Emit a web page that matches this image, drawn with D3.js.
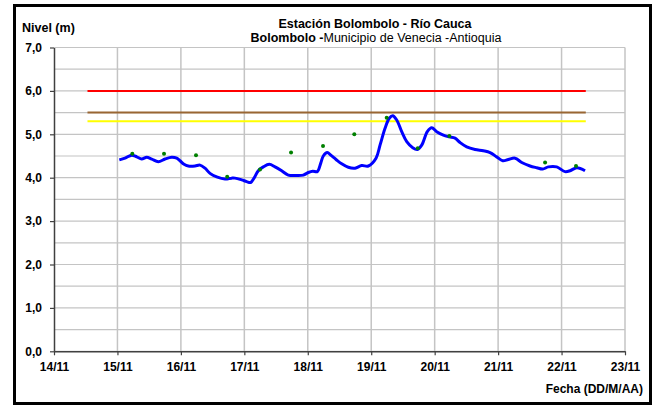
<!DOCTYPE html>
<html>
<head>
<meta charset="utf-8">
<script src="https://cdn.jsdelivr.net/npm/d3@7"></script>
<style>
  body { margin: 0; background: #fff; }
  svg { font-family: "Liberation Sans", Arial, sans-serif; }
</style>
</head>
<body>
<svg id="chart" width="655" height="407"></svg>
<script>
// niveles horarios (aprox.)
const lineTimes = [
  "15 00:42","15 02:52","15 05:24","15 07:18","15 09:10","15 11:04","15 12:58","15 15:27","15 18:00","15 20:31","15 22:25","15 23:40",
  "16 01:11","16 02:48","16 05:21","16 07:14","16 09:07","16 11:01","16 13:33","16 16:41","16 19:13","16 20:28","16 23:00",
  "17 00:54","17 02:25","17 03:40","17 05:17","17 07:10","17 09:27","17 11:37","17 14:08","17 16:38","17 19:49","17 22:19",
  "18 00:13","18 01:52","18 03:36","18 04:53","18 05:52","18 07:23","18 08:41","18 10:41","18 12:50","18 15:20","18 17:53","18 20:24","18 22:54",
  "19 01:49","19 03:20","19 05:14","19 06:50","19 08:08","19 09:39","19 11:32","19 13:26","19 15:42","19 17:27","19 19:06","19 21:13","19 22:53",
  "20 00:46","20 03:17","20 05:33","20 07:42","20 09:36","20 12:07","20 15:16","20 18:24","20 20:57","20 23:28",
  "21 01:45","21 03:52","21 06:24","21 08:56","21 12:04","21 14:37","21 16:53","21 19:00","21 22:10",
  "22 01:19","22 03:13","22 05:46","22 08:53"
];
const lineLevels = [
  4.41,4.45,4.52,4.48,4.43,4.47,4.43,4.37,4.43,4.47,4.45,4.39,
  4.31,4.27,4.27,4.29,4.22,4.10,4.02,3.97,3.99,3.99,3.95,
  3.91,3.89,3.99,4.16,4.25,4.31,4.25,4.16,4.06,4.05,4.06,
  4.12,4.15,4.14,4.33,4.50,4.58,4.52,4.42,4.32,4.24,4.22,4.28,4.27,
  4.45,4.75,5.14,5.37,5.43,5.33,5.06,4.83,4.69,4.65,4.75,5.06,5.15,
  5.06,4.98,4.94,4.91,4.81,4.71,4.65,4.62,4.58,4.48,
  4.39,4.42,4.45,4.35,4.27,4.23,4.20,4.25,4.25,
  4.14,4.16,4.23,4.16
];

// lecturas de mira
const obsTimes = ["15 05:37","15 17:37","16 05:43","16 17:31","17 05:56","17 17:40","18 05:46","18 17:36","19 05:51","19 17:36","20 05:33","21 17:46","22 05:28"];
const obsLevels = [4.55,4.55,4.52,4.02,4.19,4.58,4.73,5.00,5.38,4.68,4.96,4.35,4.27];

// umbrales de alerta
const alertLevels = [6.0, 5.5, 5.3];
const alertColors = ["#ff0000", "#996633", "#ffff00"];
const alertStart = "14 12:40";
const alertEnd = "22 09:10";

const xTicks = ["14 00:00","15 00:00","16 00:00","17 00:00","18 00:00","19 00:00","20 00:00","21 00:00","22 00:00","23 00:00"];
const yTicks = [0,1,2,3,4,5,6,7];
const yGrid = d3.range(0, 7.01, 0.5);

const parse = d3.timeParse("%Y-%m-%d %H:%M");
const toDate = s => parse("2011-11-" + s);

const line = lineTimes.map((t, i) => ({date: toDate(t), v: lineLevels[i]}));
const obs = obsTimes.map((t, i) => ({date: toDate(t), v: obsLevels[i]}));

const plotLeft = 54, plotRight = 625, plotTop = 47.5, plotBottom = 351.3;

const x = d3.scaleTime()
    .domain([toDate(xTicks[0]), toDate(xTicks[xTicks.length - 1])])
    .range([plotLeft, plotRight]);
const y = d3.scaleLinear()
    .domain([0, 7])
    .range([plotBottom, plotTop]);

const svg = d3.select("#chart");

// marco exterior
svg.append("rect")
  .attr("x", 14.5).attr("y", 5.5)
  .attr("width", 636).attr("height", 398)
  .attr("fill", "#fff")
  .attr("stroke", "#000")
  .attr("stroke-width", 3);

// rejilla
svg.append("g").selectAll("line")
  .data(yGrid)
  .join("line")
    .attr("x1", plotLeft).attr("x2", plotRight)
    .attr("y1", d => y(d)).attr("y2", d => y(d))
    .attr("stroke", "#c4c4c4")
    .attr("stroke-width", 1.2);

svg.append("g").selectAll("line")
  .data(xTicks.slice(1).map(toDate))
  .join("line")
    .attr("x1", d => x(d)).attr("x2", d => x(d))
    .attr("y1", plotTop).attr("y2", plotBottom)
    .attr("stroke", "#c4c4c4")
    .attr("stroke-width", 1.5);

// ejes
const xAxis = d3.axisBottom(x)
  .tickValues(xTicks.map(toDate))
  .tickFormat(d3.timeFormat("%d/%m"))
  .tickSizeInner(4).tickSizeOuter(0).tickPadding(7);
const yAxis = d3.axisLeft(y)
  .tickValues(yTicks)
  .tickFormat(d => d3.format(".1f")(d).replace(".", ","))
  .tickSizeInner(4).tickSizeOuter(0).tickPadding(8);

const gx = svg.append("g")
  .attr("transform", "translate(0," + plotBottom + ")")
  .call(xAxis);
const gy = svg.append("g")
  .attr("transform", "translate(" + plotLeft + ",0)")
  .call(yAxis);

[gx, gy].forEach(g => {
  g.select(".domain").attr("stroke", "#404040").attr("stroke-width", 1.5);
  g.selectAll(".tick line").attr("stroke", "#404040").attr("stroke-width", 1.2);
  g.selectAll(".tick text")
    .attr("fill", "#000")
    .style("font-size", "12px")
    .style("font-weight", "bold")
    .style("font-family", "'Liberation Sans', Arial, sans-serif");
});

// umbrales
svg.append("g").selectAll("line")
  .data(alertLevels)
  .join("line")
    .attr("x1", x(toDate(alertStart))).attr("x2", x(toDate(alertEnd)))
    .attr("y1", d => y(d)).attr("y2", d => y(d))
    .attr("stroke", (d, i) => alertColors[i])
    .attr("stroke-width", 2);

// nivel
const lineGen = d3.line()
  .x(d => x(d.date))
  .y(d => y(d.v))
  .curve(d3.curveCatmullRom.alpha(0.5));

svg.append("path")
  .datum(line)
  .attr("d", lineGen)
  .attr("fill", "none")
  .attr("stroke", "#0000ff")
  .attr("stroke-width", 3)
  .attr("stroke-linejoin", "round");

// lecturas
svg.append("g").selectAll("circle")
  .data(obs)
  .join("circle")
    .attr("cx", d => x(d.date))
    .attr("cy", d => y(d.v))
    .attr("r", 2)
    .attr("fill", "#008000");

// textos
svg.append("text")
  .attr("x", 22).attr("y", 32)
  .style("font-size", "12.5px").style("font-weight", "bold")
  .text("Nivel (m)");

svg.append("text")
  .attr("x", 375).attr("y", 28)
  .attr("text-anchor", "middle")
  .style("font-size", "12.5px").style("font-weight", "bold")
  .text("Estación Bolombolo - Río Cauca");

const sub = svg.append("text")
  .attr("x", 376).attr("y", 42)
  .attr("text-anchor", "middle")
  .style("font-size", "12.5px");
sub.append("tspan").style("font-weight", "bold").text("Bolombolo -");
sub.append("tspan").text("Municipio de Venecia -Antioquia");

svg.append("text")
  .attr("x", 643).attr("y", 393)
  .attr("text-anchor", "end")
  .style("font-size", "12px").style("font-weight", "bold")
  .text("Fecha (DD/M/AA)");
</script>
</body>
</html>
